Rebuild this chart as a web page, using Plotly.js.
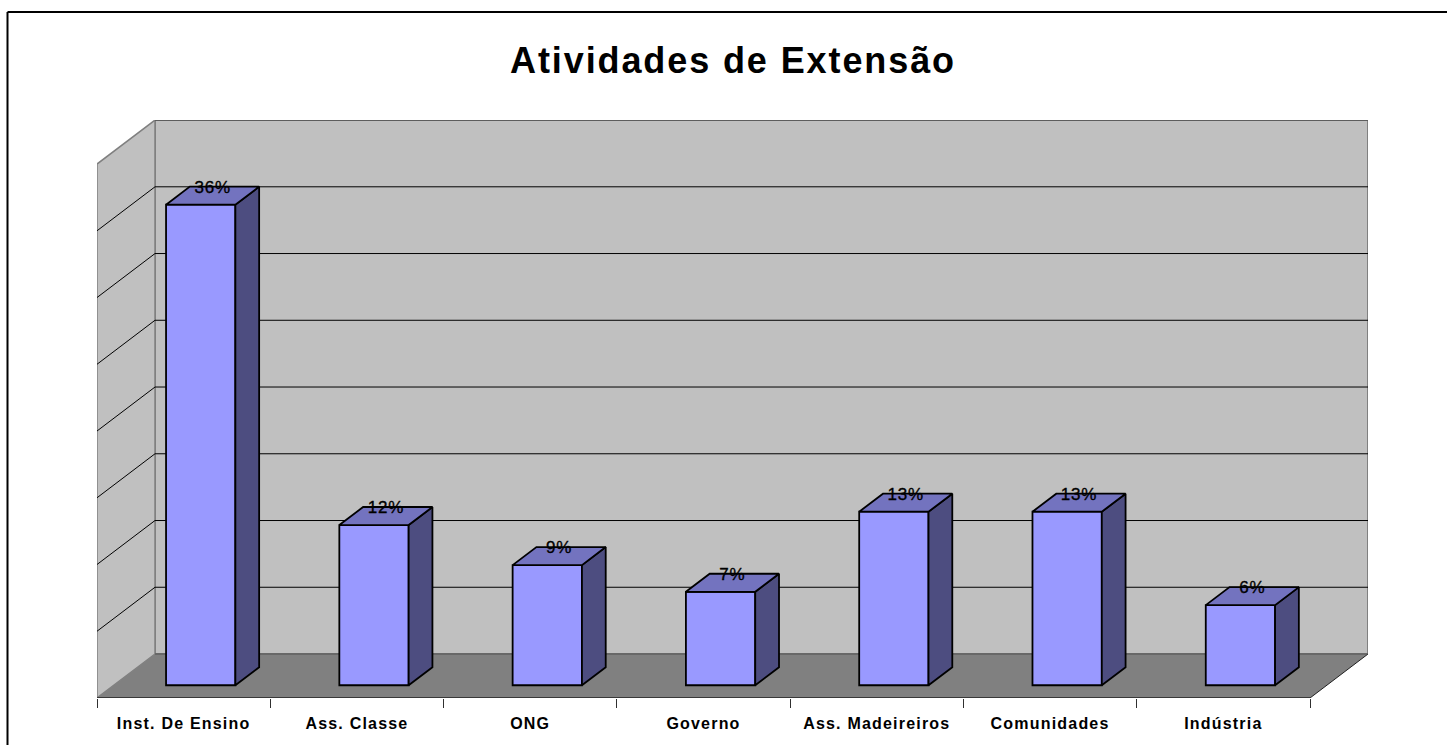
<!DOCTYPE html>
<html>
<head>
<meta charset="utf-8">
<script src="https://cdn.plot.ly/plotly-3.0.1.min.js"></script>
<style>
html,body{margin:0;padding:0;background:#fff;overflow:hidden}
#chart{width:1447px;height:745px}
.gtitle{letter-spacing:1.9px}
.xtick text{letter-spacing:1.2px}
.textpoint text{stroke:#000;stroke-width:0.35px;letter-spacing:0.8px}
</style>
</head>
<body>
<div id="chart"></div>
<script>
// Chart values
const categories = ["Inst. De Ensino","Ass. Classe","ONG","Governo","Ass. Madeireiros","Comunidades","Indústria"];
const percents = [36,12,9,7,13,13,6];
const gridValues = [0,5,10,15,20,25,30,35,40];
const chartTitle = "Atividades de Extensão";

// Pseudo-3D projection, in data units
const depthX = 0.3347, depthY = 3.296;   // floor depth
const barWidth = 0.40;
const barOffsetX = 0.0985;               // front face centre vs. category centre
const gapFrac = 0.29, barDepthFrac = 0.41;
const frontGapY = depthY*gapFrac;
const barDX = depthX*barDepthFrac, barDY = depthY*barDepthFrac;

const xMin = -0.5, xFloorEnd = categories.length-0.5, xMax = xFloorEnd+depthX;
const yMax = 43.3, topV = 40;

const colors = {wall:"#C0C0C0", floor:"#808080", edge:"#808080", front:"#9999FF", top:"#7373BF", side:"#4D4D80"};

function path(pts){return "M"+pts.map(p=>p[0]+","+p[1]).join("L")+"Z";}
function poly(pts,fill,lineColor,w){
  return {type:"path",xref:"x",yref:"y",layer:"below",path:path(pts),fillcolor:fill,
          line:{color:lineColor,width:w}};
}
function seg(a,b,color,w){
  return {type:"line",xref:"x",yref:"y",layer:"below",x0:a[0],y0:a[1],x1:b[0],y1:b[1],line:{color:color,width:w}};
}
const bx = xMin+depthX, bxR = xMax;
const shapes = [
  poly([[bx,depthY],[bxR,depthY],[bxR,topV+depthY],[bx,topV+depthY]],colors.wall,colors.edge,2),
  poly([[xMin,0],[bx,depthY],[bx,topV+depthY],[xMin,topV]],colors.wall,colors.edge,1.5),
  poly([[xMin,0],[xFloorEnd,0],[bxR,depthY],[bx,depthY]],colors.floor,"rgba(0,0,0,0)",0),
];
gridValues.slice(1,-1).forEach(v=>{
  shapes.push(seg([xMin,v],[bx,v+depthY],"#000",1));
  shapes.push(seg([bx,v+depthY],[bxR,v+depthY],"#000",1));
});
shapes.push(seg([bx,topV+depthY],[bxR,topV+depthY],"#404040",1));
shapes.push(seg([xMin,0],[xFloorEnd,0],"#202020",1.5));
shapes.push(seg([xFloorEnd,0],[bxR,depthY],"#202020",1));
shapes.push(seg([bx,depthY],[bxR,depthY],"#505050",1));
// outer frame (top and left only)
shapes.push({type:"line",xref:"paper",yref:"paper",x0:(7.5-97)/1271,x1:1.1,y0:(698-12)/578,y1:(698-12)/578,line:{color:"#000",width:2}});
shapes.push({type:"line",xref:"paper",yref:"paper",x0:(7.5-97)/1271,x1:(7.5-97)/1271,y0:(698-12)/578,y1:-0.1,line:{color:"#000",width:2}});

const xs = categories.map((c,i)=>i+barOffsetX);
const base = frontGapY;
const edge = {color:"#000",width:1.8};

const frontTrace = {type:"bar",x:xs,y:percents,base:percents.map(()=>base),width:barWidth,
  marker:{color:colors.front,line:edge},hoverinfo:"skip",showlegend:false};

function faceTrace(xv,yv,fill){
  return {type:"scatter",mode:"lines",x:xv,y:yv,fill:"toself",fillcolor:fill,
          line:edge,hoverinfo:"skip",showlegend:false};
}
const sideX=[],sideY=[],topX=[],topY=[];
xs.forEach((x,i)=>{
  const l=x-barWidth/2,r=x+barWidth/2,t=base+percents[i];
  sideX.push(r,r+barDX,r+barDX,r,r,null);
  sideY.push(base,base+barDY,t+barDY,t,base,null);
  topX.push(l,r,r+barDX,l+barDX,l,null);
  topY.push(t,t,t+barDY,t+barDY,t,null);
});
const sideTrace=faceTrace(sideX,sideY,colors.side);
const topTrace=faceTrace(topX,topY,colors.top);

const labelTrace={type:"scatter",mode:"text",
  x:xs.map(x=>x+barDX/2),
  y:percents.map(v=>base+v+barDY-0.15),
  text:percents.map(v=>v+"%"),textposition:"middle center",cliponaxis:false,
  textfont:{family:"Liberation Sans, Arial, sans-serif",size:17,color:"#000"},
  hoverinfo:"skip",showlegend:false};

const layout={
  width:1447,height:745,autosize:false,
  margin:{l:97,r:79,t:120,b:47,pad:0},
  paper_bgcolor:"#fff",plot_bgcolor:"#fff",showlegend:false,
  title:{text:chartTitle,x:733/1447,xref:"container",xanchor:"center",y:1-60/745,yref:"container",yanchor:"middle",
    font:{family:"Liberation Sans, Arial, sans-serif",size:36,color:"#000",weight:700}},
  xaxis:{type:"linear",range:[xMin,xMax],showgrid:false,zeroline:false,showline:false,
    tickmode:"array",tickvals:categories.map((c,i)=>i),ticktext:categories,
    ticks:"outside",ticklen:9,tickcolor:"rgba(0,0,0,0)",tickangle:0,ticklabelstandoff:2,
    tickfont:{family:"Liberation Sans, Arial, sans-serif",size:16,color:"#000",weight:700},
    minor:{tickmode:"array",tickvals:Array.from({length:categories.length+1},(_,i)=>i-0.5),
      ticks:"outside",ticklen:9,tickwidth:1,tickcolor:"#303030",showgrid:false}},
  yaxis:{range:[0,yMax],visible:false,showgrid:false,zeroline:false},
  bargap:0,
  shapes:shapes
};
Plotly.newPlot("chart",[frontTrace,sideTrace,topTrace,labelTrace],layout,{displayModeBar:false,staticPlot:true});
</script>
</body>
</html>
